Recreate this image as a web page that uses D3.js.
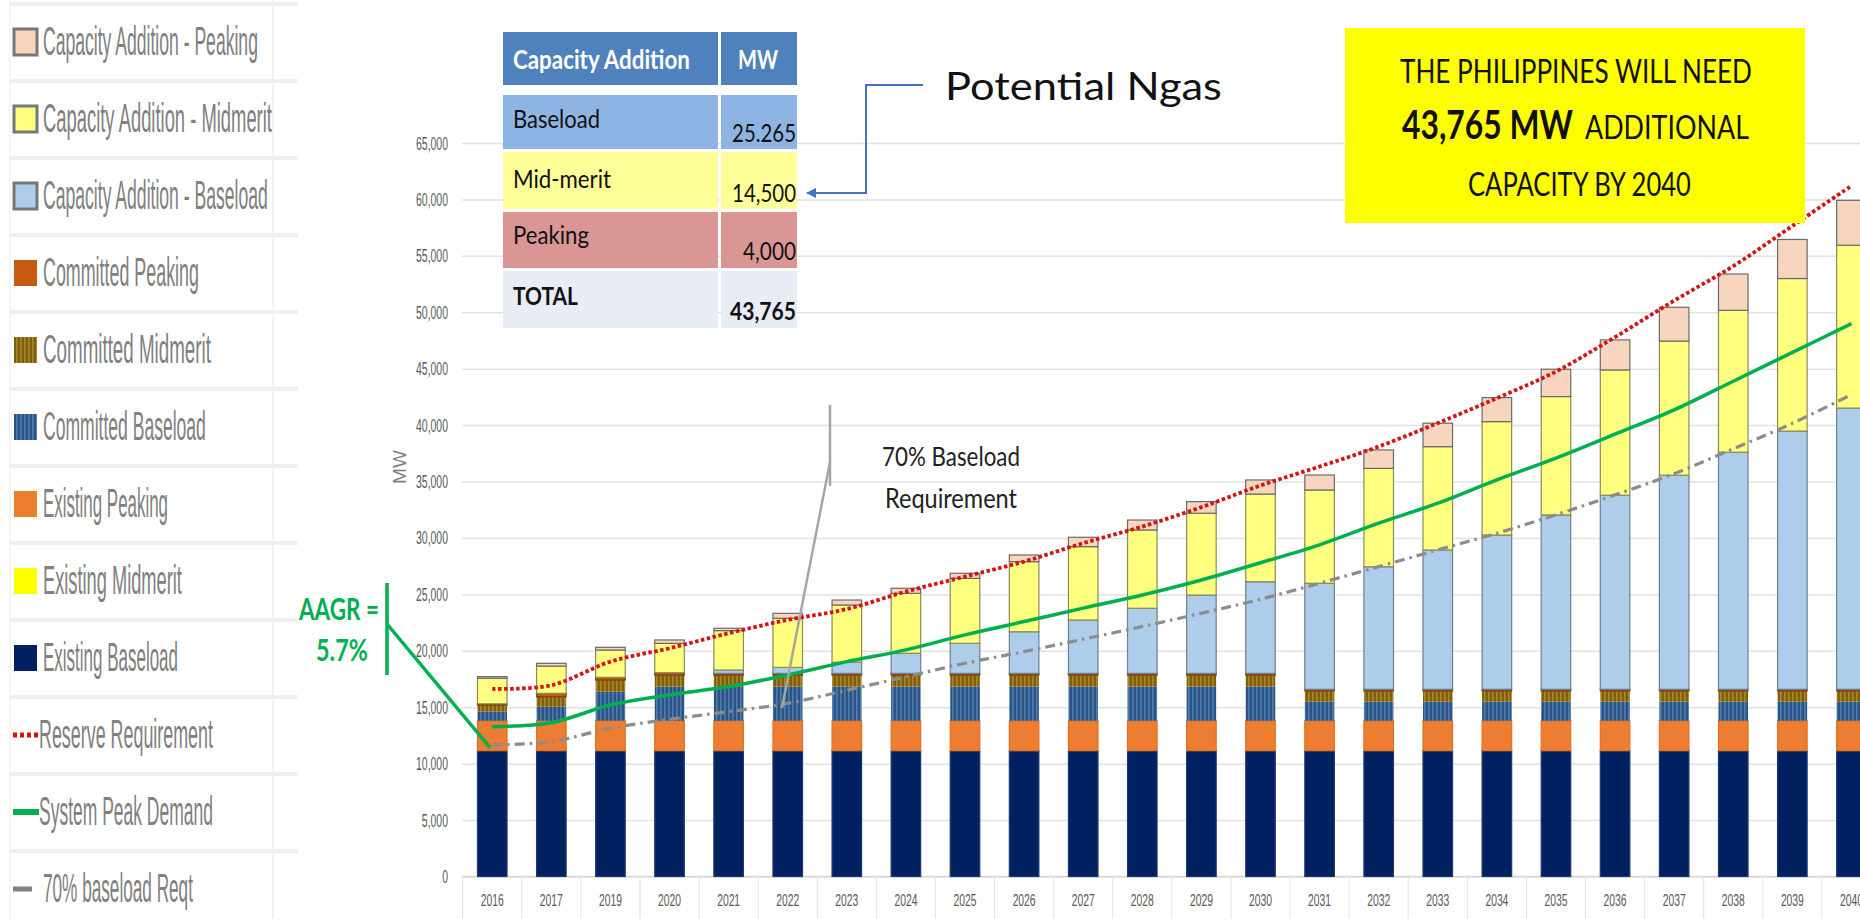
<!DOCTYPE html>
<html><head><meta charset="utf-8">
<script src="https://cdn.jsdelivr.net/npm/d3@7/dist/d3.min.js"></script>
<style>body{margin:0;background:#fff;} svg{display:block;}</style>
</head><body><svg id="c" width="1860" height="919"></svg>
<script>
// ---------------- DATA ----------------
const categories = ["2016","2017","2019","2020","2021","2022","2023","2024","2025","2026","2027","2028","2029","2030","2031","2032","2033","2034","2035","2036","2037","2038","2039","2040"];
const existingBaseload  = [11150,11150,11150,11150,11150,11150,11150,11150,11150,11150,11150,11150,11150,11150,11150,11150,11150,11150,11150,11150,11150,11150,11150,11150];
const existingMidmerit  = [0,0,0,0,0,0,0,0,0,0,0,0,0,0,0,0,0,0,0,0,0,0,0,0];
const existingPeaking   = [2650,2650,2650,2650,2650,2650,2650,2650,2650,2650,2650,2650,2650,2650,2650,2650,2650,2650,2650,2650,2650,2650,2650,2650];
const committedBaseload = [800,1240,2570,3020,3020,3020,3020,3020,3020,3020,3020,3020,3020,3020,1690,1690,1690,1690,1690,1690,1690,1690,1690,1690];
const committedMidmerit = [600,890,1040,1030,1030,1030,1030,1030,1030,1030,1030,1030,1030,1030,970,970,970,970,970,970,970,970,970,970];
const committedPeaking  = [100,300,240,210,150,150,150,150,150,150,150,150,150,150,130,130,130,130,130,130,130,130,130,130];
const capAddBaseload    = [0,0,0,0,300,530,990,1780,2660,3690,4730,5770,6940,8120,9390,10860,12340,13670,15450,17200,18970,21010,22880,24920];
const capAddMidmerit    = [2270,2420,2420,2600,3490,4350,5070,5310,5760,6210,6500,6940,7250,7770,8270,8720,9160,10050,10490,11100,11890,12570,13520,14430];
const capAddPeaking     = [140,240,240,300,210,440,440,450,450,590,830,880,1030,1250,1330,1630,2080,2130,2420,2660,2990,3220,3460,3980];
const reserveRequirement = [16620,16950,19040,20230,21560,22740,23700,25250,26580,27910,29540,31010,32730,34650,36330,38100,40180,42390,44750,47800,51030,54090,57650,61210];
const systemPeakDemand   = [13280,13630,15200,16090,16830,17860,19040,20080,21410,22590,23780,24950,26280,27800,29390,31310,33080,35150,37070,39200,41350,43890,46440,48990];
const baseloadReqt70     = [11660,11950,13140,13930,14610,15350,16500,17700,18900,19930,21030,22150,23330,24570,25990,27460,28940,30420,32050,33820,35700,37900,40160,42700];
const yTickValues = [0,5000,10000,15000,20000,25000,30000,35000,40000,45000,50000,55000,60000,65000];
const legendLabels = ["Capacity Addition - Peaking","Capacity Addition - Midmerit","Capacity Addition - Baseload","Committed Peaking","Committed Midmerit","Committed Baseload","Existing Peaking","Existing Midmerit","Existing Baseload","Reserve Requirement","System Peak Demand","70% baseload Reqt"];
const tableRows = ["Baseload","Mid-merit","Peaking","TOTAL"];
const tableValues = ["25.265","14,500","4,000","43,765"];

// ---------------- STYLES ----------------
const seriesKeys = ["eb","em","ep","cb","cm","cp","ab","am","ap"];
const seriesArrays = {eb:existingBaseload,em:existingMidmerit,ep:existingPeaking,cb:committedBaseload,cm:committedMidmerit,cp:committedPeaking,ab:capAddBaseload,am:capAddMidmerit,ap:capAddPeaking};
const fillOf = {eb:"#002060",em:"#FFFF00",ep:"#ED7D31",cb:"url(#pCB)",cm:"url(#pCM)",cp:"#C55A11",ab:"#ADCDEB",am:"#FFFF80",ap:"#F8D5BE"};
const strokeOf = {eb:"#1F3A73",em:"none",ep:"#E07020",cb:"none",cm:"none",cp:"#7a3a10",ab:"#6F7F8F",am:"#8A8A5A",ap:"#6A6A6A"};

const svg = d3.select("#c");
const W = 1860, H = 919;
svg.append("rect").attr("width",W).attr("height",H).attr("fill","#fff");

// condensed text helper: natural width == target width, stretched vertically to visual size F
function fitText(g, str, x, y, targetW, F, attrs, anchor){
  const t = g.append("text").text(str).attr("font-size",20);
  Object.entries(attrs||{}).forEach(([k,v])=>t.attr(k,v));
  const w = t.node().getComputedTextLength() || 1;
  const fs = 20*targetW/w;
  t.attr("font-size",fs).attr("text-anchor",anchor||"start")
   .attr("transform",`translate(${x},${y}) scale(1,${F/fs})`);
  return t;
}

const defs = svg.append("defs");
const pcb = defs.append("pattern").attr("id","pCB").attr("width",4).attr("height",4).attr("patternUnits","userSpaceOnUse");
pcb.append("rect").attr("width",4).attr("height",4).attr("fill","#2B5485");
pcb.append("rect").attr("x",0).attr("width",1.6).attr("height",4).attr("fill","#4F7CAE");
const pcm = defs.append("pattern").attr("id","pCM").attr("width",4).attr("height",4).attr("patternUnits","userSpaceOnUse");
pcm.append("rect").attr("width",4).attr("height",4).attr("fill","#7E5E08");
pcm.append("rect").attr("x",0).attr("width",1.6).attr("height",4).attr("fill","#A8862C");

// ---------------- SCALES ----------------
const x = d3.scaleBand().domain(categories).range([462.7,1881]).paddingInner(0.5).paddingOuter(0.25);
const y = d3.scaleLinear().domain([0,65000]).range([876.5,143]);
const bw = x.bandwidth();
const cx = c => x(c) + bw/2;
const fmt = d3.format(",");

// gridlines
svg.append("g").attr("transform","translate(462,0)")
  .call(d3.axisLeft(y).tickValues(yTickValues).tickSize(-(W-462)).tickFormat(""))
  .call(g=>g.select(".domain").remove())
  .call(g=>g.selectAll("line").attr("stroke","#E2E2E2").attr("stroke-width",1.5));

// y axis labels
const yl = svg.append("g").attr("font-family","Liberation Sans").attr("fill","#595959");
yTickValues.forEach(v=>{
  const s = fmt(v); const n = s.replace(/,/g,"").length; const c = s.length-n;
  fitText(yl, s, 448, y(v)+6.5, 5.8*n+3*c, 18, {}, "end");
});

// MW title
svg.append("text").attr("transform","translate(406,467) rotate(-90)").attr("text-anchor","middle")
  .attr("font-family","Liberation Sans").attr("font-size",19).attr("fill","#7F7F7F").text("MW");

// x axis
svg.append("line").attr("x1",462).attr("x2",W).attr("y1",y(0)).attr("y2",y(0)).attr("stroke","#D9D9D9").attr("stroke-width",1.5);
svg.append("g").selectAll("line").data(d3.range(categories.length+1)).join("line")
  .attr("x1",i=>x.range()[0]+i*x.step()).attr("x2",i=>x.range()[0]+i*x.step())
  .attr("y1",y(0)).attr("y2",H).attr("stroke","#E3E3E3").attr("stroke-width",1);
const xl = svg.append("g").attr("font-family","Liberation Sans").attr("fill","#595959");
categories.forEach(c=>fitText(xl, c, cx(c), y(0)+29, 23, 17, {}, "middle"));

// ---------------- BARS ----------------
const rows = categories.map((c,i)=>{const r={year:c}; seriesKeys.forEach(k=>r[k]=seriesArrays[k][i]); return r;});
const stacked = d3.stack().keys(seriesKeys)(rows);
svg.append("g").selectAll("g").data(stacked).join("g")
  .attr("fill",s=>fillOf[s.key]).attr("stroke",s=>strokeOf[s.key]).attr("stroke-width",1.2)
  .selectAll("rect").data(s=>s.filter(d=>d[1]-d[0]>0)).join("rect")
  .attr("x",d=>x(d.data.year)).attr("width",bw)
  .attr("y",d=>y(d[1])).attr("height",d=>y(d[0])-y(d[1]));

// ---------------- LINES ----------------
const lineGen = arr => d3.line().x((d,i)=>cx(categories[i])).y(d=>y(d)).curve(d3.curveCatmullRom.alpha(0.5))(arr);
svg.append("path").attr("d",lineGen(baseloadReqt70)).attr("fill","none").attr("stroke","#8C8C8C")
  .attr("stroke-width",3.2).attr("stroke-dasharray","10 5 2.5 5");
svg.append("path").attr("d",lineGen(systemPeakDemand)).attr("fill","none").attr("stroke","#00B050")
  .attr("stroke-width",3.5);
svg.append("path").attr("d",lineGen(reserveRequirement)).attr("fill","none").attr("stroke","#D41414")
  .attr("stroke-width",3.8).attr("stroke-dasharray","3.5 2.5");

// ---------------- LEGEND ----------------
const legStep = 77;
const legY0 = 42;
const lg = svg.append("g");
lg.append("line").attr("x1",273).attr("x2",273).attr("y1",0).attr("y2",H).attr("stroke","#F3F3F3").attr("stroke-width",2);
lg.append("line").attr("x1",10).attr("x2",10).attr("y1",0).attr("y2",H).attr("stroke","#F6F6F6").attr("stroke-width",2);
lg.selectAll("line.sep").data(d3.range(12)).join("line").attr("class","sep")
  .attr("x1",10).attr("x2",298).attr("y1",i=>legY0-38+legStep*i).attr("y2",i=>legY0-38+legStep*i)
  .attr("stroke","#EFEFEF").attr("stroke-width",4);
const legKeys = ["ap","am","ab","cp","cm","cb","ep","em","eb"];
const legTextW = [215,229,225,156,168,163,125,139,135,174,174,150];
const lgt = lg.append("g").attr("font-family","Liberation Sans").attr("fill","#808080");
legendLabels.forEach((lab,i)=>{
  const cy = legY0 + legStep*i;
  if (i<9){
    const k = legKeys[i];
    lg.append("rect").attr("x",14).attr("y",cy-13).attr("width",23).attr("height",26)
      .attr("fill",fillOf[k]).attr("stroke",i<3?"#777":"none").attr("stroke-width",i<3?3:0);
  } else if (i===9){
    lg.append("line").attr("x1",13).attr("x2",39).attr("y1",cy).attr("y2",cy).attr("stroke","#D41414").attr("stroke-width",5).attr("stroke-dasharray","4 3");
  } else if (i===10){
    lg.append("line").attr("x1",13).attr("x2",39).attr("y1",cy).attr("y2",cy).attr("stroke","#00B050").attr("stroke-width",6);
  } else {
    lg.append("line").attr("x1",13).attr("x2",32).attr("y1",cy).attr("y2",cy).attr("stroke","#7F7F7F").attr("stroke-width",5);
  }
  fitText(lgt, lab, i>=9&&i<11?39:43, cy+13, legTextW[i], 41, {});
});

// ---------------- TABLE ----------------
const tg = svg.append("g").attr("font-family","Lato");
const rowY = [[32,85],[95,149],[152,209],[212,268],[271,328]];
const rowFill = ["#4F81BD","#8DB4E2","#FFFF99","#DA9694","#E8ECF4"];
rowY.forEach((r,i)=>{
  tg.append("rect").attr("x",503).attr("y",r[0]).attr("width",215).attr("height",r[1]-r[0]).attr("fill",rowFill[i]);
  tg.append("rect").attr("x",721).attr("y",r[0]).attr("width",76).attr("height",r[1]-r[0]).attr("fill",rowFill[i]);
});
fitText(tg, "Capacity Addition", 513, 69, 177, 26, {"font-weight":"bold","fill":"#fff"});
fitText(tg, "MW", 738, 69, 40, 26, {"font-weight":"bold","fill":"#fff"});
const lblW = [87,98,76,65], valW=[64,64,53,66], lblY=[128,188,244,305], valY=[142,202,260,320];
tableRows.forEach((t,i)=>{
  fitText(tg, t, 513, lblY[i], lblW[i], 25, {"font-weight":i===3?"bold":"normal","fill":"#111"});
  fitText(tg, tableValues[i], 796, valY[i], valW[i], 25, {"font-weight":i===3?"bold":"normal","fill":"#111"}, "end");
});

// Potential Ngas + arrow
fitText(svg, "Potential Ngas", 945, 100, 277, 38, {"font-family":"Lato","fill":"#111"});
defs.append("marker").attr("id","arr").attr("viewBox","0 0 10 10").attr("refX",9).attr("refY",5)
  .attr("markerWidth",5).attr("markerHeight",5).attr("orient","auto")
  .append("path").attr("d","M0,0 L10,5 L0,10 z").attr("fill","#4472C4");
svg.append("path").attr("d","M923,85 H866 V193 H807").attr("fill","none").attr("stroke","#4472C4").attr("stroke-width",2)
  .attr("marker-end","url(#arr)");

// Yellow box
svg.append("rect").attr("x",1345).attr("y",28).attr("width",460).attr("height",195).attr("fill","#FFFF00");
const yb = svg.append("g").attr("font-family","Lato").attr("fill","#111");
fitText(yb, "THE PHILIPPINES WILL NEED", 1400, 83, 352, 33, {});
fitText(yb, "43,765 MW", 1402, 139, 171, 40, {"font-weight":"bold"});
fitText(yb, "ADDITIONAL", 1585, 139, 164, 33, {});
fitText(yb, "CAPACITY BY 2040", 1468, 196, 223, 33, {});

// 70% Baseload Requirement annotation
svg.append("line").attr("x1",830).attr("x2",830).attr("y1",405).attr("y2",486).attr("stroke","#A6A6A6").attr("stroke-width",2.5);
svg.append("line").attr("x1",830).attr("y1",462).attr("x2",782).attr("y2",708).attr("stroke","#A6A6A6").attr("stroke-width",2.5);
const an = svg.append("g").attr("font-family","Lato").attr("fill","#222");
fitText(an, "70% Baseload", 882, 466, 138, 26, {});
fitText(an, "Requirement", 885, 508, 132, 26, {});

// AAGR annotation
svg.append("line").attr("x1",387).attr("x2",387).attr("y1",583).attr("y2",675).attr("stroke","#00B050").attr("stroke-width",3.5);
svg.append("line").attr("x1",387).attr("y1",624).attr("x2",cx("2016")-2).attr("y2",y(11400)).attr("stroke","#00B050").attr("stroke-width",3.5);
const ag = svg.append("g").attr("font-family","Lato").attr("font-weight","bold").attr("fill","#00B050");
fitText(ag, "AAGR =", 299, 620, 80, 31, {});
fitText(ag, "5.7%", 316, 661, 52, 31, {});
</script></body></html>
